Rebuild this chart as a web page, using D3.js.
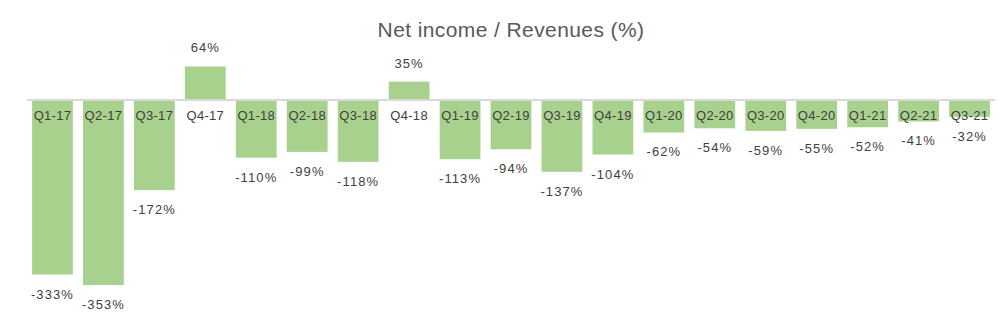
<!DOCTYPE html>
<html>
<head>
<meta charset="utf-8">
<script src="https://cdn.jsdelivr.net/npm/d3@7"></script>
<style>
  html, body { margin: 0; padding: 0; background: #ffffff; }
  svg { display: block; font-family: "Liberation Sans", Arial, sans-serif; }
</style>
</head>
<body>
<svg id="chart" width="1007" height="326"></svg>
<script>
// Quarterly net margin
const categories = ["Q1-17","Q2-17","Q3-17","Q4-17","Q1-18","Q2-18","Q3-18","Q4-18",
  "Q1-19","Q2-19","Q3-19","Q4-19","Q1-20","Q2-20","Q3-20","Q4-20","Q1-21","Q2-21","Q3-21"];
const margins = [-333,-353,-172,64,-110,-99,-118,35,-113,-94,-137,-104,-62,-54,-59,-55,-52,-41,-32];
const titleText = "Net income / Revenues (%)";

const svg = d3.select("#chart");
const data = categories.map((c, i) => ({ cat: c, v: margins[i] }));

const x = d3.scaleBand().domain(categories).range([27, 995]).paddingInner(0.2).paddingOuter(0.1);
const y = d3.scaleLinear().domain([0, -353]).range([100, 285]);

svg.append("text")
  .attr("x", 511).attr("y", 37)
  .attr("text-anchor", "middle")
  .attr("font-size", 21)
  .attr("letter-spacing", 0.4)
  .attr("fill", "#595959")
  .text(titleText);

svg.append("g").selectAll("rect").data(data).join("rect")
  .attr("x", d => x(d.cat))
  .attr("width", x.bandwidth())
  .attr("y", d => Math.min(y(d.v), y(0)))
  .attr("height", d => Math.abs(y(d.v) - y(0)))
  .attr("fill", "#a9d18e");

// zero line
svg.append("line")
  .attr("x1", 27).attr("x2", 995)
  .attr("y1", y(0)).attr("y2", y(0))
  .attr("stroke", "#d9d9d9").attr("stroke-width", 2);

// category labels just under the zero line
svg.append("g").selectAll("text").data(data).join("text")
  .attr("x", d => x(d.cat) + x.bandwidth() / 2)
  .attr("y", y(0) + 20)
  .attr("text-anchor", "middle")
  .attr("font-size", 13)
  .attr("letter-spacing", 0.3)
  .attr("fill", "#404040")
  .text(d => d.cat);

// value labels
svg.append("g").selectAll("text").data(data).join("text")
  .attr("x", d => x(d.cat) + x.bandwidth() / 2)
  .attr("y", d => d.v < 0 ? y(d.v) + 24 : y(d.v) - 14)
  .attr("text-anchor", "middle")
  .attr("font-size", 13)
  .attr("letter-spacing", 1.1)
  .attr("fill", "#404040")
  .text(d => d.v + "%");
</script>
</body>
</html>
